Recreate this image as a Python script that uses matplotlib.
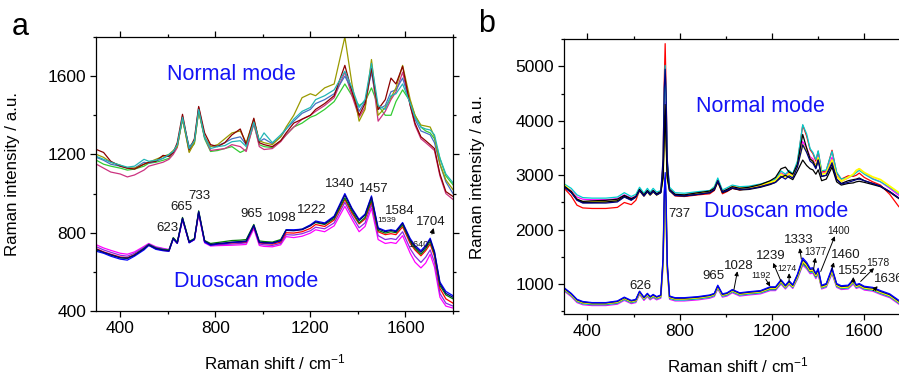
import matplotlib
matplotlib.use('Agg')
import matplotlib.pyplot as plt
from matplotlib.ticker import MultipleLocator

plt.rcParams['font.family'] = ['Liberation Sans', 'DejaVu Sans']
plt.rcParams['mathtext.fontset'] = 'custom'
plt.rcParams['mathtext.rm'] = 'Liberation Sans'
plt.rcParams['mathtext.it'] = 'Liberation Sans'

# ---------------- panel a data ----------------
xa = [300, 330, 360, 400, 430, 460, 500, 520, 550, 580,
      605, 623, 640, 662, 690, 712, 730, 755, 780, 810,
      840, 870, 905, 930, 962, 985, 1005, 1040, 1075, 1098,
      1130, 1165, 1200, 1222, 1260, 1300, 1345, 1375, 1405, 1430,
      1457, 1485, 1515, 1539, 1560, 1588, 1620, 1640, 1665, 1685,
      1704, 1722, 1745, 1770, 1800]

a_normal_teal = [1190, 1175, 1160, 1145, 1135, 1140, 1175, 1165, 1170, 1180,
                 1200, 1215, 1250, 1390, 1230, 1270, 1430, 1290, 1230, 1240,
                 1245, 1265, 1270, 1240, 1365, 1270, 1310, 1260, 1300, 1330,
                 1380, 1420, 1440, 1480, 1500, 1530, 1625, 1540, 1440, 1480,
                 1665, 1450, 1430, 1500, 1510, 1560, 1460, 1390, 1340, 1330,
                 1325, 1300, 1180, 1100, 1055]
a_normal_darkred = [1225, 1210, 1165, 1140, 1130, 1125, 1150, 1160, 1165, 1195,
                    1190, 1210, 1260, 1405, 1225, 1280, 1445, 1310, 1250, 1240,
                    1260, 1300, 1330, 1250, 1385, 1260, 1250, 1240, 1270, 1310,
                    1360, 1380, 1400, 1430, 1460, 1500, 1655, 1520, 1400, 1460,
                    1640, 1430, 1480, 1590, 1560, 1650, 1450, 1360, 1290, 1270,
                    1250, 1230, 1100, 1010, 985]
a_normal_olive = [1200, 1185, 1160, 1145, 1130, 1130, 1150, 1160, 1175, 1190,
                  1200, 1220, 1240, 1385, 1210, 1260, 1420, 1290, 1240, 1250,
                  1280, 1310, 1320, 1260, 1380, 1270, 1260, 1250, 1290, 1340,
                  1400, 1490, 1510, 1500, 1540, 1560, 1800, 1560, 1370, 1430,
                  1685, 1400, 1440, 1490, 1540, 1655, 1480, 1400, 1350, 1345,
                  1340, 1290, 1150, 1070, 1020]
a_normal_green = [1170, 1150, 1140, 1130, 1120, 1125, 1140, 1155, 1160, 1170,
                  1180, 1210, 1240, 1380, 1220, 1255, 1425, 1280, 1215, 1220,
                  1230, 1240, 1210, 1225, 1355, 1250, 1240, 1235, 1270, 1300,
                  1340, 1360, 1390, 1400, 1430, 1470, 1560, 1500, 1450, 1470,
                  1540, 1450, 1400, 1400, 1470, 1530, 1470, 1400, 1340, 1320,
                  1310, 1280, 1180, 1090, 1045]
a_normal_pink = [1150, 1130, 1110, 1100, 1085, 1095, 1120, 1140, 1150, 1160,
                 1175, 1200, 1235, 1395, 1215, 1265, 1440, 1290, 1220, 1225,
                 1230, 1250, 1240, 1215, 1360, 1240, 1225, 1230, 1265, 1300,
                 1340, 1380, 1400, 1420, 1450, 1490, 1620, 1500, 1390, 1440,
                 1640, 1370, 1420, 1480, 1520, 1620, 1450, 1350, 1280, 1260,
                 1240, 1220, 1090, 1000, 970]
a_normal_blue = [1185, 1170, 1150, 1140, 1130, 1130, 1160, 1155, 1165, 1180,
                 1195, 1210, 1250, 1380, 1240, 1265, 1425, 1285, 1240, 1245,
                 1260, 1280, 1290, 1250, 1370, 1265, 1280, 1255, 1290, 1330,
                 1370, 1410, 1430, 1460, 1480, 1510, 1600, 1530, 1420, 1470,
                 1620, 1430, 1450, 1520, 1530, 1590, 1460, 1380, 1320, 1310,
                 1300, 1260, 1150, 1060, 1000]

a_duo_navy = [715, 700, 688, 672, 670, 685, 718, 738, 720, 712,
              708, 772, 748, 875, 752, 768, 908, 758, 740, 745,
              748, 752, 755, 758, 838, 752, 750, 748, 760, 812,
              810, 815, 835, 855, 845, 880, 992, 920, 862, 890,
              982, 820, 805, 812, 805, 848, 762, 728, 700, 728,
              765, 700, 540, 490, 470]
a_duo_blue = [705, 695, 680, 665, 660, 680, 712, 735, 715, 708,
              705, 768, 745, 870, 748, 765, 905, 752, 736, 742,
              745, 750, 752, 755, 835, 750, 748, 746, 758, 815,
              815, 818, 840, 860, 850, 885, 1000, 925, 868, 895,
              988, 825, 810, 815, 810, 852, 770, 735, 708, 735,
              772, 705, 548, 500, 478]
a_duo_green = [712, 698, 685, 672, 668, 686, 720, 740, 722, 714,
               712, 775, 752, 878, 756, 770, 912, 760, 745, 750,
               755, 760, 762, 765, 842, 758, 755, 752, 765, 815,
               812, 818, 838, 852, 842, 872, 978, 910, 850, 878,
               968, 812, 798, 805, 800, 840, 755, 720, 690, 718,
               755, 690, 530, 482, 462]
a_duo_red = [718, 702, 690, 676, 672, 688, 718, 736, 718, 710,
             706, 770, 746, 872, 750, 766, 904, 755, 738, 742,
             745, 748, 750, 752, 832, 748, 745, 742, 752, 800,
             798, 805, 822, 842, 832, 865, 970, 900, 845, 870,
             960, 805, 790, 795, 790, 830, 745, 712, 682, 708,
             742, 680, 515, 462, 440]
a_duo_purple = [728, 712, 700, 685, 680, 695, 725, 742, 725, 718,
                712, 772, 748, 870, 752, 766, 900, 752, 735, 738,
                740, 742, 745, 748, 828, 742, 738, 735, 745, 790,
                788, 795, 810, 828, 820, 850, 955, 885, 825, 850,
                945, 785, 765, 770, 765, 805, 718, 680, 648, 675,
                712, 650, 490, 440, 425]
a_duo_magenta = [738, 722, 710, 695, 690, 702, 730, 745, 728, 720,
                 714, 770, 746, 866, 750, 764, 896, 748, 732, 734,
                 735, 736, 738, 740, 820, 735, 730, 728, 738, 780,
                 775, 782, 798, 815, 805, 835, 935, 868, 805, 832,
                 925, 765, 745, 750, 745, 785, 695, 650, 620, 645,
                 690, 625, 470, 425, 415]

a_labels = ['623', '665', '733', '965', '1098', '1222', '1340', '1457', '1584', '1539', '1704', '1640']
a_label_x = [598, 657, 733, 951, 1078, 1204, 1325, 1467, 1576, 1523, 1705, 1655]
a_label_y = [826, 930, 988, 897, 875, 916, 1049, 1022, 913, 860, 853, 742]
a_label_size = [9.5, 9.5, 9.5, 9.5, 9.5, 9.5, 9.5, 9.5, 9.5, 6, 9.5, 6.5]

# ---------------- panel b data ----------------
xb = [300, 330, 355, 380, 420, 480, 530, 560, 590, 610,
      626, 645, 660, 672, 685, 700, 718, 728, 733, 737,
      741, 746, 756, 780, 820, 880, 930, 950, 965, 985,
      1005, 1028, 1060, 1100, 1150, 1192, 1215, 1239, 1258, 1274,
      1290, 1310, 1333, 1350, 1365, 1377, 1390, 1400, 1415, 1435,
      1460, 1480, 1500, 1530, 1552, 1565, 1578, 1600, 1636, 1670,
      1710, 1750, 1800]

b_normal_red = [2760, 2620, 2450, 2400, 2390, 2390, 2410, 2500, 2460, 2540,
                2720, 2620, 2700, 2640, 2700, 2640, 2700, 3200, 4700, 5420,
                4600, 3200, 2720, 2620, 2610, 2640, 2660, 2720, 2880, 2660,
                2700, 2760, 2730, 2760, 2800, 2860, 2900, 3040, 2990, 3060,
                3010, 3230, 3920, 3720, 3470, 3400, 3260, 3440, 3060, 3080,
                3460, 3040, 2930, 2990, 2980, 3000, 3040, 2960, 2880, 2820,
                2650, 2420, 2350]
b_normal_cyan = [2840, 2760, 2640, 2590, 2580, 2580, 2600, 2680, 2610, 2650,
                 2780, 2670, 2760, 2690, 2760, 2690, 2720, 3150, 4450, 5020,
                 4400, 3250, 2780, 2680, 2670, 2700, 2720, 2790, 2950, 2730,
                 2770, 2820, 2790, 2800, 2840, 2890, 2930, 3080, 3020, 3090,
                 3030, 3260, 3930, 3760, 3490, 3420, 3290, 3450, 3080, 3100,
                 3440, 3060, 2930, 2960, 3000, 3050, 3090, 3020, 2930, 2880,
                 2780, 2660, 2560]
b_normal_magenta = [2800, 2720, 2600, 2560, 2550, 2550, 2570, 2640, 2580, 2620,
                    2740, 2640, 2720, 2660, 2720, 2660, 2700, 3000, 3900, 4350,
                    3800, 3000, 2740, 2650, 2640, 2680, 2710, 2760, 2910, 2700,
                    2740, 2800, 2770, 2780, 2830, 2880, 2910, 3040, 2990, 3050,
                    3000, 3200, 3620, 3500, 3340, 3300, 3180, 3350, 3040, 3060,
                    3330, 2990, 2890, 2950, 3010, 3080, 3120, 3040, 2940, 2880,
                    2760, 2630, 2540]
b_normal_yellow = [2820, 2700, 2560, 2510, 2510, 2510, 2530, 2610, 2560, 2600,
                   2720, 2630, 2700, 2640, 2700, 2640, 2690, 2950, 3800, 4280,
                   3700, 2950, 2720, 2640, 2630, 2670, 2700, 2750, 2890, 2690,
                   2730, 2790, 2760, 2770, 2820, 2870, 2900, 3020, 2970, 3030,
                   2980, 3180, 3560, 3450, 3300, 3260, 3160, 3320, 3020, 3040,
                   3280, 2980, 2890, 2960, 3020, 3090, 3120, 3050, 2970, 2920,
                   2800, 2680, 2600]
b_normal_black = [2800, 2700, 2560, 2520, 2530, 2540, 2560, 2630, 2570, 2610,
                  2740, 2640, 2720, 2660, 2720, 2660, 2700, 3000, 3900, 4300,
                  3800, 3000, 2740, 2650, 2640, 2680, 2710, 2760, 2900, 2700,
                  2740, 2790, 2760, 2780, 2830, 2900, 2960, 3120, 3150, 3060,
                  3020, 3200, 3750, 3500, 3300, 3260, 3140, 3280, 2980, 3000,
                  3200, 2920, 2850, 2900, 2920, 2930, 2950, 2900, 2850, 2800,
                  2700, 2580, 2520]
b_normal_black2 = [2790, 2690, 2550, 2500, 2500, 2510, 2530, 2610, 2550, 2600,
                   2720, 2620, 2700, 2640, 2700, 2640, 2680, 2950, 3700, 4100,
                   3600, 2950, 2720, 2630, 2620, 2650, 2680, 2730, 2880, 2680,
                   2710, 2760, 2730, 2740, 2780, 2830, 2870, 2960, 3000, 2960,
                   2920, 3080, 3280, 3180, 3120, 3100, 3020, 3100, 2900, 2930,
                   3150, 2880, 2820, 2850, 2860, 2880, 2890, 2870, 2830, 2790,
                   2690, 2570, 2500]
b_normal_navy = [2780, 2680, 2540, 2490, 2490, 2490, 2510, 2600, 2540, 2600,
                 2720, 2620, 2700, 2640, 2700, 2640, 2680, 3300, 4600, 4950,
                 4500, 3300, 2720, 2630, 2620, 2650, 2680, 2740, 2900, 2690,
                 2720, 2770, 2740, 2750, 2790, 2840, 2870, 2980, 2930, 2990,
                 2950, 3150, 3560, 3420, 3260, 3220, 3120, 3280, 2980, 3000,
                 3230, 2930, 2840, 2870, 2900, 2920, 2930, 2900, 2850, 2800,
                 2700, 2580, 2500]

b_duo_magenta = [870, 770, 660, 620, 605, 605, 630, 700, 640, 660,
                 810, 700, 770, 710, 750, 710, 740, 1350, 2300, 2600,
                 2200, 1250, 720, 690, 690, 710, 740, 770, 910, 760,
                 780, 840, 780, 800, 820, 880, 880, 1000, 910, 990,
                 920, 1090, 1350, 1280, 1190, 1200, 1100, 1180, 910, 940,
                 1190, 940, 900, 910, 1000, 920, 940, 890, 870, 810,
                 750, 630, 550]
b_duo_cyan = [885, 785, 675, 635, 620, 620, 645, 715, 655, 675,
              825, 715, 785, 725, 765, 725, 755, 1380, 2350, 2650,
              2250, 1280, 735, 705, 705, 725, 755, 785, 925, 775,
              795, 855, 795, 815, 835, 895, 895, 1015, 925, 1005,
              935, 1105, 1370, 1300, 1210, 1220, 1120, 1200, 925, 955,
              1210, 955, 915, 925, 1020, 935, 955, 905, 885, 825,
              765, 645, 565]
b_duo_gray = [900, 800, 690, 650, 635, 635, 660, 730, 670, 690,
              840, 730, 800, 740, 780, 740, 770, 1400, 2400, 2700,
              2300, 1300, 750, 720, 720, 740, 770, 800, 940, 790,
              810, 870, 810, 830, 850, 910, 910, 1030, 940, 1020,
              950, 1120, 1390, 1320, 1230, 1240, 1140, 1220, 940, 970,
              1230, 970, 930, 940, 1040, 950, 970, 920, 900, 840,
              780, 660, 580]
b_duo_yellow = [910, 810, 700, 660, 645, 645, 670, 740, 680, 700,
                850, 740, 810, 750, 790, 750, 780, 1400, 2500, 2800,
                2400, 1300, 760, 730, 730, 750, 780, 810, 950, 800,
                820, 880, 820, 840, 860, 925, 925, 1050, 950, 1030,
                960, 1140, 1420, 1350, 1250, 1260, 1160, 1240, 950, 980,
                1250, 980, 940, 950, 1050, 960, 980, 930, 910, 850,
                790, 670, 590]
b_duo_navy = [920, 820, 710, 670, 652, 652, 680, 750, 690, 710,
              860, 750, 820, 760, 800, 760, 790, 1450, 2600, 2950,
              2500, 1350, 770, 740, 740, 760, 790, 820, 965, 810,
              830, 890, 830, 850, 870, 938, 938, 1065, 965, 1045,
              975, 1160, 1450, 1375, 1270, 1280, 1180, 1265, 965, 995,
              1275, 995, 955, 965, 1070, 975, 995, 945, 925, 865,
              805, 685, 605]
b_duo_blue = [930, 830, 720, 680, 660, 660, 690, 760, 700, 720,
              870, 760, 830, 770, 810, 770, 800, 1500, 2700, 3050,
              2600, 1400, 780, 750, 750, 770, 800, 830, 980, 820,
              840, 900, 840, 860, 880, 950, 950, 1080, 980, 1060,
              990, 1180, 1480, 1400, 1290, 1300, 1200, 1290, 980, 1010,
              1300, 1010, 970, 980, 1090, 990, 1010, 960, 940, 880,
              820, 700, 620]

b_plain_labels = ['626', '965', '737']
b_plain_x = [628, 944, 752]
b_plain_y = [970, 1140, 2290]

# arrow labels: text, text position, arrow tail (curve), arrow head (near text), size
b_arrow_labels = ['1028', '1192', '1239', '1274', '1333', '1377', '1400', '1460', '1552', '1578', '1636']
b_text_x = [1056, 1151, 1194, 1267, 1314, 1389, 1486, 1519, 1549, 1657, 1705]
b_text_y = [1324, 1153, 1507, 1294, 1812, 1587, 1983, 1538, 1232, 1385, 1092]
b_tail_x = [1035, 1173, 1239, 1274, 1327, 1380, 1411, 1458, 1552, 1584, 1638]
b_tail_y = [900, 1090, 1050, 1040, 1460, 1270, 1232, 1250, 1030, 1049, 880]
b_head_x = [1050, 1192, 1205, 1274, 1320, 1388, 1472, 1468, 1552, 1642, 1658]
b_head_y = [1235, 955, 1390, 1200, 1660, 1485, 1880, 1400, 1130, 1294, 960]
b_label_size = [9.5, 6.5, 9.5, 6.2, 9.5, 7.2, 7.3, 9.5, 9.5, 7.5, 9.5]

blue_text = '#1414F5'


def style_axes(ax):
    ax.tick_params(which='both', direction='out', top=True, right=True,
                   labelsize=12.5, width=0.9)
    ax.tick_params(which='major', length=4)
    ax.tick_params(which='minor', length=2.5)
    for s in ax.spines.values():
        s.set_linewidth(0.9)


fig = plt.figure(figsize=(8.99, 3.76), dpi=100)

# ---------------- panel a ----------------
ax1 = fig.add_axes([0.1073, 0.1729, 0.3966, 0.7287])
lw = 0.9
ax1.plot(xa, a_normal_green, color='#33CC33', lw=lw)
ax1.plot(xa, a_normal_pink, color='#CC3380', lw=lw)
ax1.plot(xa, a_normal_blue, color='#4472C4', lw=lw)
ax1.plot(xa, a_normal_olive, color='#9A9A00', lw=lw)
ax1.plot(xa, a_normal_darkred, color='#8B0000', lw=lw)
ax1.plot(xa, a_normal_teal, color='#22B5B5', lw=lw)

ax1.plot(xa, a_duo_magenta, color='#FF00FF', lw=lw)
ax1.plot(xa, a_duo_purple, color='#8A2BE2', lw=lw)
ax1.plot(xa, a_duo_red, color='#FF0000', lw=lw)
ax1.plot(xa, a_duo_green, color='#008000', lw=lw)
ax1.plot(xa, a_duo_blue, color='#0000FF', lw=lw)
ax1.plot(xa, a_duo_navy, color='#000080', lw=lw)

for t, x, y, s in zip(a_labels, a_label_x, a_label_y, a_label_size):
    ax1.text(x, y, t, fontsize=s, ha='center', va='center', color='#1a1a1a')
ax1.annotate('', xy=(1722, 838), xytext=(1708, 780),
             arrowprops=dict(arrowstyle='-|>', color='black', lw=0.8,
                             mutation_scale=7))

ax1.text(868, 1610, 'Normal mode', fontsize=15.5, color=blue_text,
         ha='center', va='center')
ax1.text(931, 553, 'Duoscan mode', fontsize=15.5, color=blue_text,
         ha='center', va='center')

ax1.set_xlim(300, 1800)
ax1.set_ylim(400, 1800)
ax1.xaxis.set_major_locator(MultipleLocator(400))
ax1.xaxis.set_minor_locator(MultipleLocator(200))
ax1.yaxis.set_major_locator(MultipleLocator(400))
ax1.yaxis.set_minor_locator(MultipleLocator(200))
style_axes(ax1)
ax1.set_xlabel('Raman shift / cm$^{-1}$', fontsize=12.2)
ax1.set_ylabel('Raman intensity / a.u.', fontsize=12.2)
ax1.yaxis.set_label_coords(-0.215, 0.5)
ax1.xaxis.set_label_coords(0.5, -0.15)

# ---------------- panel b ----------------
ax2 = fig.add_axes([0.6277, 0.1649, 0.3851, 0.7306])
ax2.plot(xb, b_duo_magenta, color='#FF00FF', lw=lw)
ax2.plot(xb, b_duo_cyan, color='#00CCCC', lw=lw)
ax2.plot(xb, b_duo_gray, color='#404040', lw=lw)
ax2.plot(xb, b_duo_yellow, color='#FFFF00', lw=1.3)
ax2.plot(xb, b_duo_navy, color='#000080', lw=lw)
ax2.plot(xb, b_duo_blue, color='#0000FF', lw=lw)

ax2.plot(xb, b_normal_red, color='#FF0000', lw=lw)
ax2.plot(xb, b_normal_magenta, color='#FF00FF', lw=lw)
ax2.plot(xb, b_normal_cyan, color='#00CCCC', lw=lw)
ax2.plot(xb, b_normal_yellow, color='#FFFF00', lw=1.3)
ax2.plot(xb, b_normal_black, color='black', lw=lw)
ax2.plot(xb, b_normal_black2, color='black', lw=lw)
ax2.plot(xb, b_normal_navy, color='#000080', lw=lw)

for t, x, y in zip(b_plain_labels, b_plain_x, b_plain_y):
    ax2.text(x, y, t, fontsize=9.5, ha='left' if t == '737' else 'center',
             va='center', color='#1a1a1a')
for i, t in enumerate(b_arrow_labels):
    ax2.text(b_text_x[i], b_text_y[i], t, fontsize=b_label_size[i],
             ha='center', va='center', color='#1a1a1a')
    ax2.annotate('', xy=(b_head_x[i], b_head_y[i]),
                 xytext=(b_tail_x[i], b_tail_y[i]),
                 arrowprops=dict(arrowstyle='-|>', color='black', lw=0.7,
                                 mutation_scale=6, shrinkA=0, shrinkB=0))

ax2.text(1151, 4267, 'Normal mode', fontsize=15.5, color=blue_text,
         ha='center', va='center')
ax2.text(1218, 2331, 'Duoscan mode', fontsize=15.5, color=blue_text,
         ha='center', va='center')

ax2.set_xlim(300, 1800)
ax2.set_ylim(450, 5500)
ax2.xaxis.set_major_locator(MultipleLocator(400))
ax2.xaxis.set_minor_locator(MultipleLocator(200))
ax2.yaxis.set_major_locator(MultipleLocator(1000))
ax2.yaxis.set_minor_locator(MultipleLocator(500))
style_axes(ax2)
ax2.set_xlabel('Raman shift / cm$^{-1}$', fontsize=12.2)
ax2.set_ylabel('Raman intensity / a.u.', fontsize=12.2)
ax2.yaxis.set_label_coords(-0.229, 0.5)
ax2.xaxis.set_label_coords(0.5, -0.15)

fig.text(0.022, 0.928, 'a', fontsize=22, ha='center', va='center')
fig.text(0.541, 0.936, 'b', fontsize=22, ha='center', va='center')

fig.savefig('out.png', dpi=100)
